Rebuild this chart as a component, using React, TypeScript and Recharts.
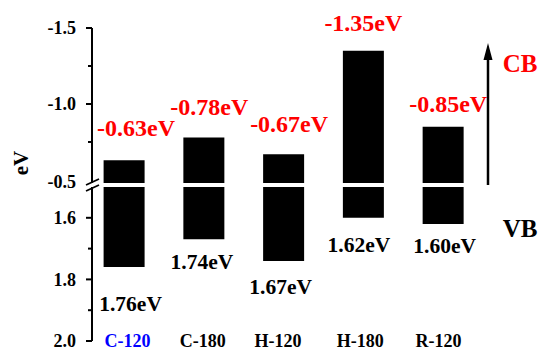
import React from 'react';
import { BarChart, Bar, XAxis, YAxis, LabelList } from 'recharts';

// band positions (eV)
const samples = ['C-120', 'C-180', 'H-120', 'H-180', 'R-120'];
const cbLevels = [-0.63, -0.78, -0.67, -1.35, -0.85];
const vbLevels = [1.76, 1.67, 1.74, 1.6, 1.62];
const cbLabels = ['-0.63eV', '-0.78eV', '-0.67eV', '-1.35eV', '-0.85eV'];
const gapLabels = ['1.76eV', '1.74eV', '1.67eV', '1.62eV', '1.60eV'];
const sampleColors = ['#0000ff', '#000', '#000', '#000', '#000'];

const upperTicks = [-1.5, -1.25, -1.0, -0.75, -0.5];
const lowerTicks = [1.6, 1.7, 1.8, 1.9, 2.0];
const majorTicks = [-1.5, -1.0, -0.5, 1.6, 1.8, 2.0];
const tickText: Record<string, string> = { '-1.5': '-1.5', '-1': '-1.0', '-0.5': '-0.5', '1.6': '1.6', '1.8': '1.8', '2': '2.0' };

// axis break
const UPPER_END = -0.48;
const LOWER_START = 1.5;

// small label nudges (px)
const cbDx = [12, 5.5, 5.5, 0, 5];
const cbGap = [24, 22, 22, 20, 15];
const gapDx = [6.5, -2, -3, -4.5, 1.5];
const gapGap = [44, 30, 33, 34, 29];
const nameDx = [3, -1.5, -6, -3.5, -5];

const upperData = samples.map((s, i) => ({ name: s, range: [cbLevels[i], UPPER_END] }));
const lowerData = samples.map((s, i) => ({ name: s, range: [LOWER_START, vbLevels[i]] }));

const FONT = "'Liberation Serif', 'Times New Roman', Times, serif";
const txt = (size: number, fill: string) => ({ fontFamily: FONT, fontWeight: 700, fontSize: size, fill });
const MARGIN_RIGHT = 55.6;
const PAD = { left: -7.4, right: 0 };

const YTick = (props: any) => {
  const { x, y, payload } = props;
  const v = payload.value;
  const major = majorTicks.includes(v);
  const showLine = v !== -0.5;
  return (
    <g>
      {showLine && <line x1={x - (major ? 6 : 4)} x2={x} y1={y} y2={y} stroke="#000" strokeWidth={2} />}
      {major && (
        <text x={x - 16} y={v === -0.5 ? y + 2 : y} dy="0.35em" textAnchor="end" style={txt(18, '#000')}>
          {tickText[String(v)]}
        </text>
      )}
    </g>
  );
};

const XTick = (props: any) => {
  const { x, y, index } = props;
  return (
    <text x={x + nameDx[index]} y={y + 6} textAnchor="middle" style={txt(18, sampleColors[index])}>
      {samples[index]}
    </text>
  );
};

const CbLabel = (props: any) => {
  const { x, y, width, height, index } = props;
  const top = Math.min(y, y + height);
  return (
    <text x={x + width / 2 + cbDx[index]} y={top - cbGap[index]} textAnchor="middle" style={txt(24, '#ff0000')}>
      {cbLabels[index]}
    </text>
  );
};

const GapLabel = (props: any) => {
  const { x, y, width, height, index } = props;
  const bottom = Math.max(y, y + height);
  return (
    <text x={x + width / 2 + gapDx[index]} y={bottom + gapGap[index]} textAnchor="middle" style={txt(21.5, '#000')}>
      {gapLabels[index]}
    </text>
  );
};

export default function App() {
  return (
    <div style={{ position: 'absolute', left: 0, top: 0, width: 539, height: 350, background: '#fff' }}>
      <div style={{ position: 'absolute', left: 0, top: 0 }}>
        <BarChart width={539} height={192} data={upperData} margin={{ top: 28, right: MARGIN_RIGHT, bottom: 9, left: 0 }}>
          <XAxis dataKey="name" hide padding={PAD} />
          <YAxis
            type="number"
            reversed
            domain={[-1.5, UPPER_END]}
            allowDataOverflow
            ticks={upperTicks}
            interval={0}
            width={92}
            tickSize={0}
            tickMargin={0}
            tickLine={false}
            tick={<YTick />}
            axisLine={{ stroke: '#000', strokeWidth: 2 }}
          />
          <Bar dataKey="range" fill="#000" barSize={41} isAnimationActive={false}>
            <LabelList dataKey="range" content={<CbLabel />} />
          </Bar>
        </BarChart>
      </div>
      <div style={{ position: 'absolute', left: 0, top: 187 }}>
        <BarChart width={539} height={163} data={lowerData} margin={{ top: 0, right: MARGIN_RIGHT, bottom: 0, left: 0 }}>
          <XAxis
            dataKey="name"
            height={9}
            padding={PAD}
            interval={0}
            tickSize={0}
            tickMargin={0}
            tickLine={false}
            axisLine={false}
            tick={<XTick />}
          />
          <YAxis
            type="number"
            reversed
            domain={[LOWER_START, 2.0]}
            allowDataOverflow
            ticks={lowerTicks}
            interval={0}
            width={92}
            tickSize={0}
            tickMargin={0}
            tickLine={false}
            tick={<YTick />}
            axisLine={{ stroke: '#000', strokeWidth: 2 }}
          />
          <Bar dataKey="range" fill="#000" barSize={41} isAnimationActive={false}>
            <LabelList dataKey="range" content={<GapLabel />} />
          </Bar>
        </BarChart>
      </div>
      <svg width={539} height={350} style={{ position: 'absolute', left: 0, top: 0, pointerEvents: 'none' }}>
        <text transform="translate(28,163) rotate(-90)" textAnchor="middle" style={txt(21, '#000')}>
          eV
        </text>
        {/* axis break marks */}
        <line x1={86} y1={185} x2={99} y2={179} stroke="#000" strokeWidth={1.8} />
        <line x1={86} y1={191} x2={99} y2={185} stroke="#000" strokeWidth={1.8} />
        {/* CB arrow */}
        <line x1={488} y1={185} x2={488} y2={56} stroke="#000" strokeWidth={2.5} />
        <polygon points="488,43 483.5,60 492.5,60" fill="#000" />
        <text x={520} y={72} textAnchor="middle" style={txt(25, '#ff0000')}>
          CB
        </text>
        <text x={520} y={237} textAnchor="middle" style={txt(25, '#000')}>
          VB
        </text>
      </svg>
    </div>
  );
}
